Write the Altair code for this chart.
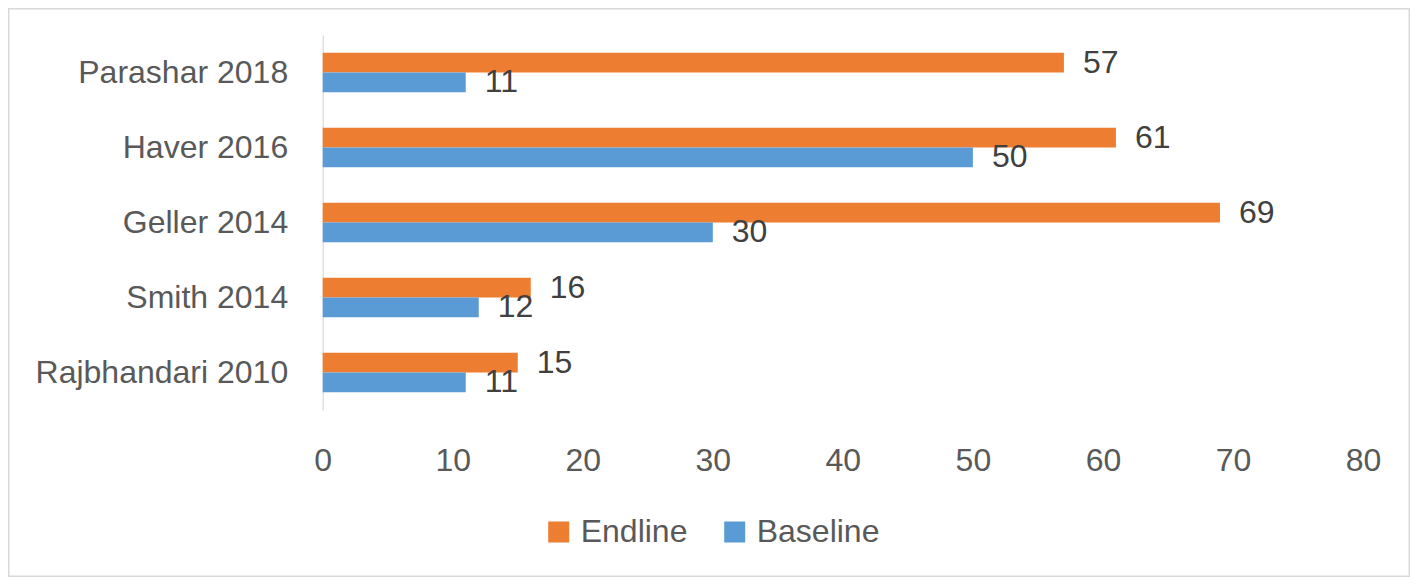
import altair as alt
import pandas as pd

studies = ["Rajbhandari 2010", "Smith 2014", "Geller 2014", "Haver 2016", "Parashar 2018"]
baseline = [11, 12, 30, 50, 11]
endline = [15, 16, 69, 61, 57]
series = ["Endline", "Baseline"]
colors = ["#ED7D31", "#5B9BD5"]
x_ticks = [0, 10, 20, 30, 40, 50, 60, 70, 80]

FONT = "Liberation Sans"

rows = []
for s, b, e in zip(studies, baseline, endline):
    rows.append({"study": s, "series": "Endline", "value": e})
    rows.append({"study": s, "series": "Baseline", "value": b})
df = pd.DataFrame(rows)

order = list(reversed(studies))

y_enc = alt.Y(
    "study:N", sort=order, title=None,
    scale=alt.Scale(paddingInner=0.476, paddingOuter=0.238),
    axis=alt.Axis(labelFont=FONT, labelFontSize=32, labelColor="#595959",
                  labelPadding=35, ticks=False, tickSize=0, domain=True,
                  domainColor="#d9d9d9", domainWidth=1.2, grid=False, labelLimit=400),
)
yoff = alt.YOffset("series:N", sort=series, scale=alt.Scale(domain=series))
x_enc = alt.X(
    "value:Q", title=None,
    scale=alt.Scale(domain=[0, 80], nice=False),
    axis=alt.Axis(values=x_ticks, labelFont=FONT, labelFontSize=32, labelColor="#595959",
                  labelPadding=35, labelFlush=False, ticks=False, tickSize=0,
                  domain=False, grid=False),
)

bars = alt.Chart(df).mark_bar(strokeWidth=0).encode(
    x=x_enc, y=y_enc, yOffset=yoff,
    color=alt.Color(
        "series:N", sort=series,
        scale=alt.Scale(domain=series, range=colors),
        legend=alt.Legend(
            title=None, orient="none", legendX=220, legendY=481, direction="horizontal",
            symbolType="square", symbolSize=441, symbolStrokeWidth=0,
            labelFont=FONT, labelFontSize=32, labelColor="#595959",
            labelOffset=6, columnPadding=31,
        ),
    ),
)

labels = alt.Chart(df).mark_text(
    align="left", baseline="middle", dx=19, fontSize=32, font=FONT, color="#404040"
).encode(
    x=alt.X("value:Q"), y=alt.Y("study:N", sort=order), yOffset=yoff, text="value:Q"
)

border = alt.Chart(pd.DataFrame({"a": [0]})).mark_rect(
    filled=False, stroke="#d9d9d9", strokeWidth=1.5
).encode(
    x=alt.value(-314.0), x2=alt.value(1086.6), y=alt.value(-26.2), y2=alt.value(541.2)
)

chart = alt.layer(border, bars, labels).properties(
    width=1040.3, height=375,
    padding={"left": 314.7, "top": 27, "right": 47, "bottom": 167},
    autosize=alt.AutoSizeParams(type="none"),
    background="white",
).configure_view(stroke=None)

chart.save("out.html", embed_options={"renderer": "svg", "actions": False})
